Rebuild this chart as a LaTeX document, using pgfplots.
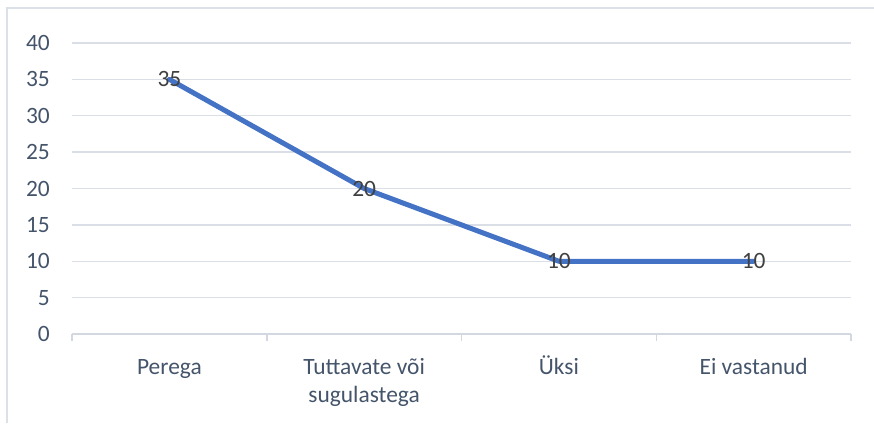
\documentclass[border=0pt]{standalone}
\usepackage{pgfplots}
\pgfplotsset{compat=1.18}
\usepackage{fontspec}
\setmainfont{Carlito}
\definecolor{lineblue}{HTML}{4472C4}
\definecolor{gridc}{HTML}{D9DEE7}
\definecolor{axisc}{HTML}{D3D8E0}
\definecolor{labc}{HTML}{44546A}
\definecolor{datac}{HTML}{404040}
\definecolor{framec}{HTML}{DCE0E8}
\begin{document}
\begin{tikzpicture}[x=1bp,y=1bp]
\useasboundingbox (0,0) rectangle (874,423);
\draw[framec, line width=1.5bp] (7,0) -- (7,415) -- (874,415);
\begin{axis}[
  at={(72bp,89bp)}, anchor=south west,
  width=779bp, height=291bp, scale only axis=true,
  xmin=-0.5, xmax=3.5, ymin=0, ymax=40,
  ytick={0,5,...,40},
  /pgf/number format/assume math mode=true,
  xtick={0,1,2,3},
  xticklabels={Perega\vphantom{Ü},{Tuttavate või\vphantom{Ü}\\sugulastega},Üksi,Ei vastanud\vphantom{Ü}},
  major tick length=0pt,
  extra x ticks={-0.5,0.5,1.5,2.5,3.5},
  extra x tick labels={},
  extra x tick style={major tick length=7bp, tick align=outside, grid=none,
    tick style={axisc, line width=1.5bp}},
  axis x line*=bottom,
  axis y line*=left,
  y axis line style={draw=none},
  x axis line style={axisc, line width=1.5bp, -},
  ymajorgrids=true,
  grid style={gridc, line width=1.5bp},
  tick label style={font=\fontsize{23.5}{27.5}\selectfont, text=labc},
  yticklabel style={inner sep=0pt, anchor=east},
  yticklabel shift=22bp,
  xticklabel style={align=center, inner sep=0pt, anchor=north},
  xticklabel shift=22bp,
  clip=false,
  every node near coord/.append style={anchor=center, font=\fontsize{23.5}{27.5}\selectfont, text=datac},
]
\addplot[lineblue, line width=5bp, line join=round, line cap=round, mark=none,
  nodes near coords, point meta=explicit symbolic]
  coordinates {(0,35) [35] (1,20) [20] (2,10) [10] (3,10) [10]};
\end{axis}
\end{tikzpicture}
\end{document}
